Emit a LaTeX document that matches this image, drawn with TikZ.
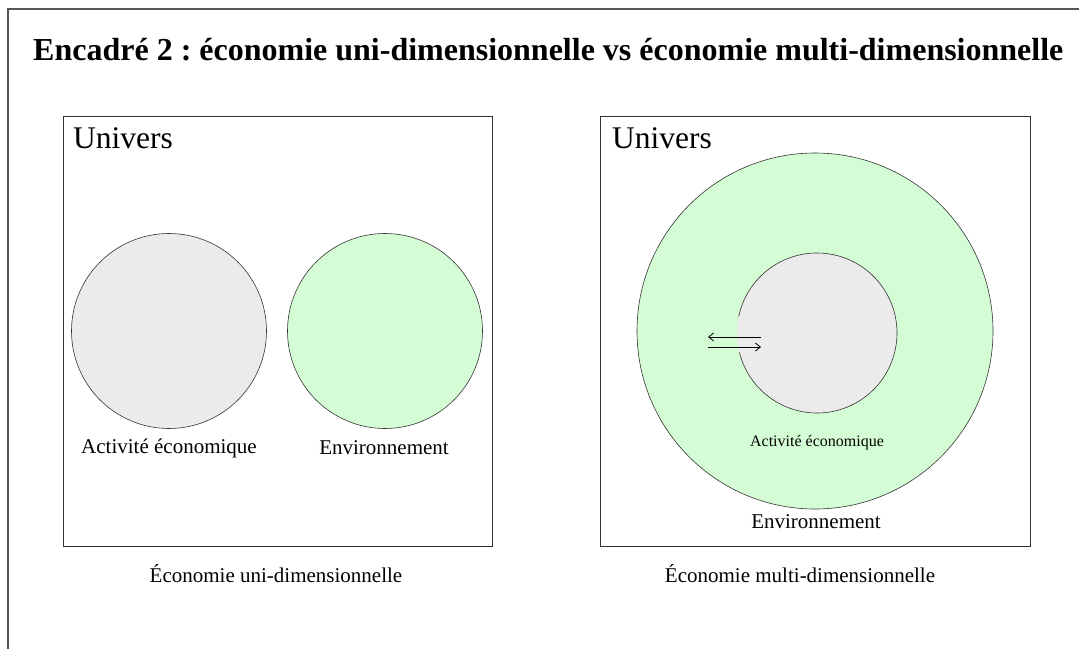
\documentclass[tikz,border=0pt]{standalone}
\usepackage{fontspec}
\setmainfont{Liberation Serif}
\frenchspacing
\usetikzlibrary{arrows.meta}
\definecolor{circgray}{HTML}{EBEBEB}
\definecolor{circgreen}{HTML}{D5FDD5}
\definecolor{framegray}{HTML}{555555}
\begin{document}
\begin{tikzpicture}[x=1pt,y=-1pt,
  box/.style={draw=black!80,line width=1pt},
  circ/.style={draw=black!80,line width=0.6pt},
  lbl/.style={inner sep=0pt,font=\fontsize{21}{24}\selectfont},
  univ/.style={inner sep=0pt,anchor=base west,font=\fontsize{31.5}{36}\selectfont},
  arr/.style={-{Straight Barb[length=5pt,width=8pt]},line width=0.8pt}]
\useasboundingbox (0,0) rectangle (1079,648);
\draw[framegray,line width=1.2pt] (8,700) -- (8,9) -- (1100,9);
\node[inner sep=0pt,anchor=base west,font=\bfseries\fontsize{32}{36}\selectfont] (title) at (33,60) {Encadré 2 : économie uni-dimensionnelle vs économie multi-dimensionnelle};
% left panel
\draw[box] (63,116) rectangle (492,546);
\node[univ] (u1) at (73,148) {Univers};
\draw[circ,fill=circgray] (169,331) circle (97.5);
\draw[circ,fill=circgreen] (385,331) circle (97.5);
\node[lbl] (a1) at (169,448) {Activité économique};
\node[lbl] (e1) at (384,448) {Environnement};
\node[lbl] (c1) at (276,574) {Économie uni-dimensionnelle};
% right panel
\draw[box] (600,116) rectangle (1030,546);
\node[univ] (u2) at (612,148) {Univers};
\draw[circ,fill=circgreen] (815,331) circle (178);
\fill[circgray] (817,333) circle (80);
\draw[circ] (817,333) ++(-168:80) arc[start angle=-168,end angle=166,radius=80];
\coordinate (la) at (761,337);
\coordinate (lb) at (708,337);
\coordinate (ra) at (708,347);
\coordinate (rb) at (761,347);
\draw[arr] (la) -- (lb);
\draw[arr] (ra) -- (rb);
\node[inner sep=0pt,font=\fontsize{16}{18}\selectfont] (a2) at (817,443) {Activité économique};
\node[lbl] (e2) at (816,522) {Environnement};
\node[lbl] (c2) at (800,574) {Économie multi-dimensionnelle};
\end{tikzpicture}
\end{document}
